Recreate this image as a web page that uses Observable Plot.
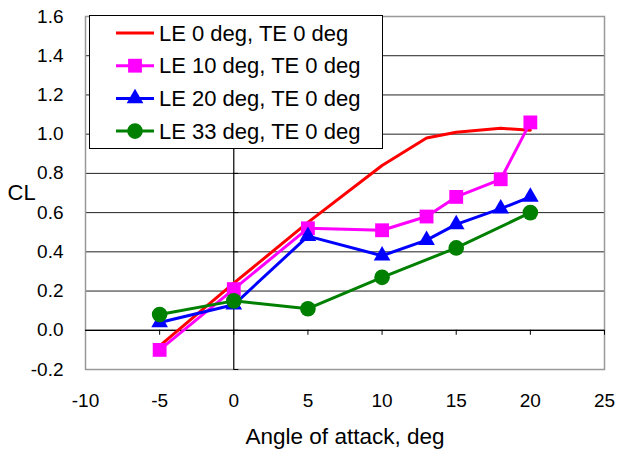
<!DOCTYPE html>
<html><head><meta charset="utf-8">
<script src="https://cdn.jsdelivr.net/npm/d3@7"></script>
<script src="https://cdn.jsdelivr.net/npm/@observablehq/plot@0.6"></script>
<style>
body{margin:0;background:#fff;}
#wrap{position:relative;width:617px;height:454px;font-family:"Liberation Sans",Arial,sans-serif;}
#legend{position:absolute;left:89px;top:15px;}
</style></head><body><div id="wrap"></div>
<script>
const seriesNames = ["LE 0 deg, TE 0 deg", "LE 10 deg, TE 0 deg", "LE 20 deg, TE 0 deg", "LE 33 deg, TE 0 deg"];
const seriesColors = ["#ff0000", "#ff00ff", "#0000ff", "#008000"];
const seriesSymbols = [null, "square", "triangle", "circle"];
const seriesSizes = [0, 7.8, 6.2, 7.8];

const alphaLE0 = [-5, 0, 5, 10, 13, 15, 18, 20];
const clLE0 = [-0.08, 0.24, 0.55, 0.84, 0.98, 1.01, 1.03, 1.02];
const alphaLE10 = [-5, 0, 5, 10, 13, 15, 18, 20];
const clLE10 = [-0.10, 0.21, 0.52, 0.51, 0.58, 0.68, 0.77, 1.06];
const alphaLE20 = [-5, 0, 5, 10, 13, 15, 18, 20];
const clLE20 = [0.04, 0.13, 0.48, 0.38, 0.46, 0.54, 0.62, 0.68];
const alphaLE33 = [-5, 0, 5, 10, 15, 20];
const clLE33 = [0.08, 0.15, 0.11, 0.27, 0.42, 0.60];

const xTicks = [-10, -5, 0, 5, 10, 15, 20, 25];
const yTicks = [-0.2, 0.0, 0.2, 0.4, 0.6, 0.8, 1.0, 1.2, 1.4, 1.6];
const xTitle = "Angle of attack, deg";
const yTitle = "CL";

const alphas = [alphaLE0, alphaLE10, alphaLE20, alphaLE33];
const cls = [clLE0, clLE10, clLE20, clLE33];
const series = seriesNames.map((name, s) => alphas[s].map((a, i) => ({name, alpha: a, cl: cls[s][i]})));

const marks = [
  Plot.ruleY(yTicks.slice(1, -1), {stroke: "#222", strokeWidth: 1}),
  Plot.frame({stroke: "#999", strokeWidth: 1.5}),
  Plot.ruleY([0], {stroke: "#000", strokeWidth: 1.2}),
  Plot.ruleX([0], {stroke: "#000", strokeWidth: 1.2}),
  Plot.ruleX(xTicks.slice(1), {x: d => d, y1: 0, y2: 0, insetBottom: -5, stroke: "#000"}),
  Plot.ruleY(yTicks, {y: d => d, x1: 0, x2: 0, insetRight: -5, stroke: "#000"})
];
series.forEach((rows, s) => {
  marks.push(Plot.line(rows, {x: "alpha", y: "cl", stroke: seriesColors[s], strokeWidth: 3}));
  if (seriesSymbols[s]) marks.push(Plot.dot(rows, {x: "alpha", y: "cl", symbol: seriesSymbols[s], r: seriesSizes[s], fill: seriesColors[s], stroke: "none"}));
});
marks.push(Plot.text([yTitle], {text: d => d, frameAnchor: "left", dx: -78, textAnchor: "start", fontSize: 22, fill: "#000"}));
marks.push(Plot.text([xTitle], {text: d => d, frameAnchor: "bottom", dy: 74, fontSize: 22.5, fill: "#000"}));

const chart = Plot.plot({
  width: 617, height: 454,
  marginLeft: 85, marginRight: 13, marginTop: 16, marginBottom: 85,
  style: {fontSize: "19px", fontFamily: "'Liberation Sans', Arial, sans-serif", color: "#000", background: "#fff"},
  x: {domain: [-10, 25], ticks: xTicks, tickFormat: d => String(d), tickSize: 0, tickPadding: 24, label: null},
  y: {domain: [-0.2, 1.6], ticks: yTicks, tickFormat: d => d.toFixed(1), tickSize: 0, tickPadding: 22, label: null},
  marks
});
const wrap = document.getElementById("wrap");
wrap.appendChild(chart);

// legend
const rowH = 32.7;
const lg = d3.select(wrap).append("svg").attr("id", "legend").attr("width", 295).attr("height", 135);
lg.append("rect").attr("x", 0.5).attr("y", 0.5).attr("width", 293).attr("height", 133).attr("fill", "#fff").attr("stroke", "#000");
seriesNames.forEach((name, i) => {
  const cy = 18 + i * rowH;
  lg.append("line").attr("x1", 27).attr("x2", 65).attr("y1", cy).attr("y2", cy).attr("stroke", seriesColors[i]).attr("stroke-width", 3);
  if (seriesSymbols[i]) {
    const t = {square: d3.symbolSquare, triangle: d3.symbolTriangle, circle: d3.symbolCircle}[seriesSymbols[i]];
    lg.append("path").attr("transform", `translate(46,${cy})`).attr("d", d3.symbol(t, Math.PI * seriesSizes[i] ** 2)()).attr("fill", seriesColors[i]);
  }
  lg.append("text").attr("x", 70).attr("y", cy).attr("dy", "0.35em").attr("font-size", 22).attr("font-family", "'Liberation Sans', Arial, sans-serif").text(name);
});
</script></body></html>
